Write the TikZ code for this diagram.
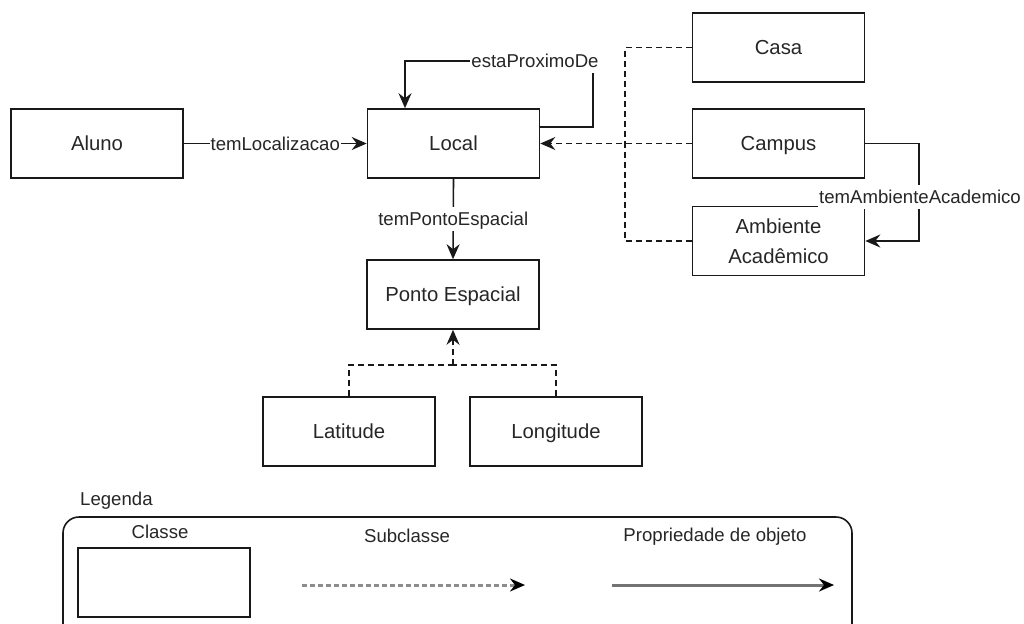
\documentclass[tikz,border=0pt]{standalone}
\usepackage{fontspec}
\setmainfont{Liberation Sans}
\usetikzlibrary{arrows.meta}
\begin{document}
\begin{tikzpicture}[x=1pt,y=-1pt,
  cls/.style={draw=black!90, line width=1.6pt, minimum width=172pt, minimum height=69pt,
    inner sep=0pt, align=center, font=\fontsize{20.3}{29.5}\selectfont, text=black!85},
  one/.style={text height=18.9pt, text depth=4.3pt},
  tip/.style={-{Stealth[length=15pt,width=13pt,inset=5pt]}},
  prop/.style={draw=black!90, line width=1.6pt},
  sub/.style={draw=black!90, line width=1.4pt, dash pattern=on 6pt off 4pt},
  lbl/.style={fill=white, inner sep=1pt, text=black!85, text height=17.4pt, text depth=4pt,
    font=\fontsize{18.6}{22}\selectfont},
  txt/.style={inner sep=0pt, text=black!85, font=\fontsize{18.6}{22}\selectfont}]
\useasboundingbox (0,0) rectangle (1024,623);

% classes
\node[cls,one] (aluno)    at (97,143.5)   {Aluno};
\node[cls,one] (local)    at (453.5,143.5) {Local};
\node[cls,one] (casa)     at (778.5,47.5)  {Casa};
\node[cls,one] (campus)   at (778.5,143.5) {Campus};
\node[cls]     (ambiente) at (778.5,241)   {Ambiente\\Acadêmico};
\node[cls,one] (ponto)    at (453,294.5)   {Ponto Espacial};
\node[cls,one] (latitude) at (349,431.5)   {Latitude};
\node[cls,one] (longitude) at (556,431.5)  {Longitude};

% object properties
\draw[prop,tip] (aluno.east) -- node[lbl] {temLocalizacao} (local.west);
\draw[prop,tip] (local.south) -- node[lbl] {temPontoEspacial} (ponto.north);
\coordinate (loopR) at (593,61);
\draw[prop,tip] ([yshift=16.5pt]local.east) -| (loopR) -| ([xshift=-48.5pt]local.north);
\node[lbl] (lblProx) at (535,61) {estaProximoDe};
\coordinate (ambR) at (919,143.5);
\draw[prop,tip] (campus.east) -- (ambR) |- (ambiente.east);
\node[lbl] (lblAmb) at (920,197) {temAmbienteAcademico};

% subclasses
\coordinate (trunk) at (625,143.5);
\draw[sub] (casa.west) -| (trunk);
\draw[sub] (ambiente.west) -| (trunk);
\draw[sub,tip] (campus.west) -- (local.east);
\coordinate (pj) at (453,365);
\draw[sub] (latitude.north) |- (pj);
\draw[sub] (longitude.north) |- (pj);
\draw[sub,tip] (pj) -- (ponto.south);

% legend
\node[txt, anchor=west] (legTitle) at (80,501) {Legenda};
\draw[draw=black!90, line width=1.6pt, rounded corners=16pt] (63,517) rectangle (852,640);
\node[txt] (legClasse) at (160,532) {Classe};
\node[cls] (legBox) at (164,582.5) {};
\node[txt] (legSub) at (407,536) {Subclasse};
\node[txt] (legProp) at (715,537) {Propriedade de objeto};
\coordinate (ds) at (302,585);
\coordinate (de) at (525,585);
\draw[draw=black!45, line width=3pt, dash pattern=on 4.5pt off 3.5pt,
  -{Stealth[length=15pt,width=13pt,inset=5pt,black,fill=black]}] (ds) -- (de);
\coordinate (ps) at (612,585);
\coordinate (pe) at (834,585);
\draw[draw=black!55, line width=3pt,
  -{Stealth[length=15pt,width=13pt,inset=5pt,black,fill=black]}] (ps) -- (pe);
\end{tikzpicture}
\end{document}
